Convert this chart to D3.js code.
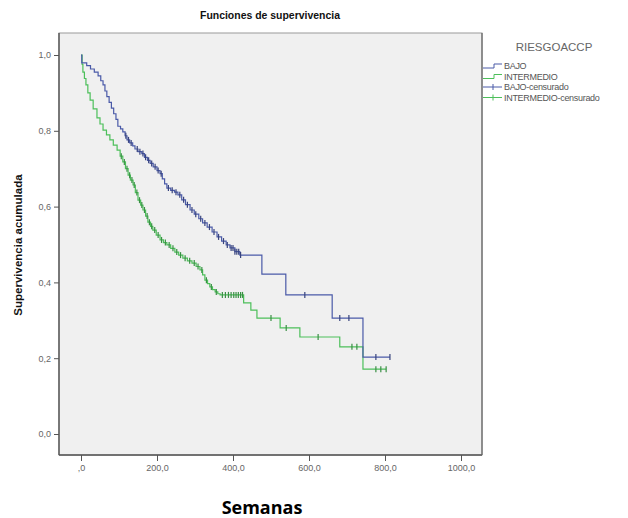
<!DOCTYPE html>
<html><head><meta charset="utf-8">
<script src="https://cdn.jsdelivr.net/npm/d3@7"></script>
<style>body{margin:0;background:#fff}svg{display:block}</style>
</head><body>
<script>
// ---- data ----
const bajoTimes = [0,2,15,25,35,45,52,58,63,68,74,80,86,92,97,104,110,116,121,128,136,142,150,160,167,175,182,190,200,208,214,220,226,236,246,255,265,275,287,298,310,320,332,345,358,370,382,392,405,418,476,539,661,742];
const bajoSurv  = [1.0,0.979,0.972,0.963,0.955,0.945,0.932,0.921,0.905,0.89,0.875,0.86,0.845,0.83,0.812,0.805,0.797,0.787,0.776,0.768,0.76,0.752,0.745,0.74,0.73,0.722,0.714,0.705,0.695,0.687,0.673,0.66,0.649,0.643,0.638,0.631,0.618,0.605,0.591,0.58,0.568,0.557,0.546,0.533,0.52,0.509,0.499,0.491,0.481,0.472,0.422,0.367,0.306,0.203];
const bajoEnd = 813;
const bajoCens = [118,125,132,148,155,163,170,178,186,195,203,211,230,240,250,260,270,280,292,302,315,326,338,350,362,375,385,395,400,405,410,415,420,589,681,705,776,813];

const interTimes = [0,3,5,9,13,18,24,32,42,50,58,67,76,85,95,103,110,117,124,130,137,143,150,157,163,170,176,183,189,198,208,217,226,236,247,257,268,280,292,303,313,320,326,333,339,346,353,360,366,428,447,463,524,576,681,742];
const interSurv  = [1.0,0.975,0.955,0.938,0.921,0.9,0.881,0.858,0.834,0.818,0.802,0.789,0.776,0.762,0.749,0.733,0.718,0.7,0.683,0.67,0.657,0.637,0.617,0.604,0.591,0.575,0.559,0.548,0.538,0.525,0.512,0.505,0.499,0.49,0.48,0.472,0.464,0.457,0.451,0.442,0.433,0.42,0.406,0.397,0.388,0.381,0.375,0.37,0.367,0.346,0.327,0.306,0.28,0.256,0.23,0.171];
const interEnd = 803;
const interCens = [106,114,121,128,134,140,147,154,160,167,174,180,186,194,203,212,222,232,242,252,262,274,286,298,308,318,330,343,356,372,380,388,395,402,408,414,420,425,500,540,624,713,726,776,789,803];

const xTicks = [0,200,400,600,800,1000];
const xTickLabels = [",0","200,0","400,0","600,0","800,0","1000,0"];
const yTicks = [0,0.2,0.4,0.6,0.8,1.0];
const yTickLabels = ["0,0","0,2","0,4","0,6","0,8","1,0"];
const legendLabels = ["BAJO","INTERMEDIO","BAJO-censurado","INTERMEDIO-censurado"];

// ---- drawing ----
const W = 628, H = 518;
const blue = "#4a5aa8", green = "#4cbf5a";
const svg = d3.select("body").append("svg").attr("width", W).attr("height", H);
const x = d3.scaleLinear().domain([0,1000]).range([81,461]);
const y = d3.scaleLinear().domain([0,1]).range([434,55]);
const plot = {l:59, t:33, r:482, b:455};

svg.append("rect").attr("x",plot.l).attr("y",plot.t).attr("width",plot.r-plot.l).attr("height",plot.b-plot.t)
  .attr("fill","#f0f0f0").attr("stroke","#9a9a9a").attr("stroke-width",1);

// axes
const xAxis = d3.axisBottom(x).tickValues(xTicks).tickFormat((d,i)=>xTickLabels[i]).tickSize(6).tickSizeOuter(0);
const gx = svg.append("g").attr("transform",`translate(0,${plot.b})`).call(xAxis);
gx.select(".domain").remove();
gx.selectAll("line").attr("stroke","#555");
gx.selectAll("text").attr("fill","#666").attr("font-family","Liberation Sans, Arial, sans-serif").attr("font-size",9).attr("dy","0.8em");

const yAxis = d3.axisLeft(y).tickValues(yTicks).tickFormat((d,i)=>yTickLabels[i]).tickSize(5).tickSizeOuter(0);
const gy = svg.append("g").attr("transform",`translate(${plot.l},0)`).call(yAxis);
gy.select(".domain").remove();
gy.selectAll("line").attr("stroke","#555");
gy.selectAll("text").attr("fill","#666").attr("font-family","Liberation Sans, Arial, sans-serif").attr("font-size",9).attr("x",-8);

svg.append("line").attr("x1",plot.l).attr("x2",plot.l).attr("y1",plot.t).attr("y2",plot.b).attr("stroke","#555").attr("stroke-width",1.4);
svg.append("line").attr("x1",plot.l).attr("x2",plot.r).attr("y1",plot.b).attr("y2",plot.b).attr("stroke","#555").attr("stroke-width",1.4);
svg.append("line").attr("x1",plot.r).attr("x2",plot.r).attr("y1",plot.t).attr("y2",plot.b).attr("stroke","#666").attr("stroke-width",1.2);

// step curves
function stepVal(times, surv, t){ let v = surv[0]; for(let i=0;i<times.length;i++){ if(times[i]<=t) v=surv[i]; } return v; }
const line = d3.line().x(d=>x(d[0])).y(d=>y(d[1])).curve(d3.curveStepAfter);
function drawSeries(times, surv, end, cens, color){
  const pts = times.map((t,i)=>[t,surv[i]]);
  pts.push([end, surv[surv.length-1]]);
  svg.append("path").attr("d",line(pts)).attr("fill","none").attr("stroke",color).attr("stroke-width",1.2);
  svg.append("g").selectAll("line").data(cens).join("line")
    .attr("x1",d=>x(d)).attr("x2",d=>x(d))
    .attr("y1",d=>y(stepVal(times,surv,d))-3).attr("y2",d=>y(stepVal(times,surv,d))+3)
    .attr("stroke",d3.color(color).darker(0.8)).attr("stroke-width",1.2);
}
drawSeries(interTimes, interSurv, interEnd, interCens, green);
drawSeries(bajoTimes, bajoSurv, bajoEnd, bajoCens, blue);

// titles
svg.append("text").attr("x",270).attr("y",19).attr("text-anchor","middle")
  .attr("font-family","Liberation Sans, Arial, sans-serif").attr("font-weight","bold").attr("font-size",11.5).attr("fill","#111")
  .attr("textLength",140).attr("lengthAdjust","spacingAndGlyphs")
  .text("Funciones de supervivencia");
svg.append("text").attr("transform","translate(22,245) rotate(-90)").attr("text-anchor","middle")
  .attr("font-family","Liberation Sans, Arial, sans-serif").attr("font-weight","bold").attr("font-size",11.5).attr("fill","#111")
  .text("Supervivencia acumulada");
svg.append("text").attr("x",262).attr("y",514).attr("text-anchor","middle")
  .attr("font-family","Open Sans, sans-serif").attr("font-weight","bold").attr("font-size",18).attr("fill","#000")
  .text("Semanas");

// legend
svg.append("text").attr("x",554).attr("y",51).attr("text-anchor","middle")
  .attr("font-family","Liberation Sans, Arial, sans-serif").attr("font-size",11.5).attr("fill","#666").text("RIESGOACCP");
const legColors = [blue, green, blue, green];
const legY = [66, 76.5, 87, 97.5];
legendLabels.forEach((lab,i)=>{
  const ly = legY[i];
  if(i<2){
    svg.append("path").attr("d",`M483,${ly+2}H494V${ly-2}H502`).attr("fill","none").attr("stroke",legColors[i]).attr("stroke-width",1);
  } else {
    svg.append("line").attr("x1",483).attr("x2",502).attr("y1",ly).attr("y2",ly).attr("stroke",legColors[i]).attr("stroke-width",1);
    svg.append("line").attr("x1",493).attr("x2",493).attr("y1",ly-3).attr("y2",ly+3).attr("stroke",legColors[i]).attr("stroke-width",1);
  }
  svg.append("text").attr("x",504).attr("y",ly+3).attr("font-family","Liberation Sans, Arial, sans-serif")
    .attr("font-size",9).attr("fill","#555").attr("letter-spacing",-0.3).text(lab);
});
</script>
</body></html>
